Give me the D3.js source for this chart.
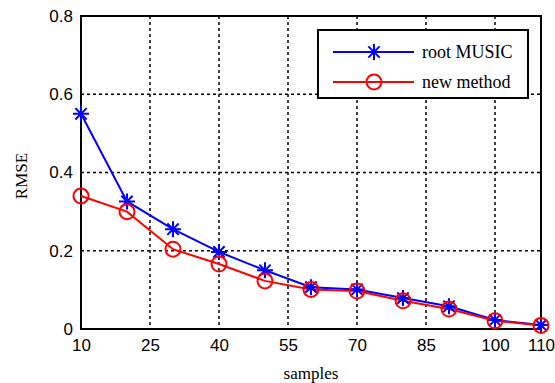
<!DOCTYPE html>
<html>
<head>
<meta charset="utf-8">
<script src="https://cdn.jsdelivr.net/npm/d3@7"></script>
<style>
  body { margin: 0; background: #fff; }
  svg { display: block; }
</style>
</head>
<body>
<div id="chart"></div>
<script>
// data
let samples = [10, 20, 30, 40, 50, 60, 70, 80, 90, 100, 110];
let rootMusic = [0.55, 0.326, 0.255, 0.197, 0.15, 0.107, 0.101, 0.079, 0.058, 0.023, 0.01];
let newMethod = [0.34, 0.30, 0.204, 0.166, 0.123, 0.101, 0.097, 0.072, 0.051, 0.021, 0.009];
let xTicks = [10, 25, 40, 55, 70, 85, 100, 110];
let yTicks = [0, 0.2, 0.4, 0.6, 0.8];

let W = 555, H = 383;
let m = {top: 16, right: 14, bottom: 54, left: 81};
let w = W - m.left - m.right;
let h = H - m.top - m.bottom;

let svg = d3.select("#chart")
    .append("svg")
    .attr("width", W)
    .attr("height", H);

let g = svg.append("g")
    .attr("transform", "translate(" + m.left + "," + m.top + ")");

let x = d3.scaleLinear().domain([10, 110]).range([0, w]);
let y = d3.scaleLinear().domain([0, 0.8]).range([h, 0]);

// dotted grid
g.append("g")
    .selectAll("line")
    .data(xTicks.filter(d => d > 10 && d < 110))
    .enter()
    .append("line")
    .attr("x1", d => x(d)).attr("x2", d => x(d))
    .attr("y1", 0).attr("y2", h)
    .attr("stroke", "#000")
    .attr("stroke-width", 1.5)
    .attr("stroke-dasharray", "3,3");

g.append("g")
    .selectAll("line")
    .data(yTicks.filter(d => d > 0 && d < 0.8))
    .enter()
    .append("line")
    .attr("x1", 0).attr("x2", w)
    .attr("y1", d => y(d)).attr("y2", d => y(d))
    .attr("stroke", "#000")
    .attr("stroke-width", 1.5)
    .attr("stroke-dasharray", "3,3");

// axes
let xAxis = g.append("g")
    .attr("transform", "translate(0," + h + ")")
    .call(d3.axisBottom(x).tickValues(xTicks).tickSize(0).tickPadding(10).tickFormat(d3.format("d")));
let yAxis = g.append("g")
    .call(d3.axisLeft(y).tickValues(yTicks).tickSize(0).tickPadding(8).tickFormat(d => d === 0 ? "0" : d3.format(".1f")(d)));

[xAxis, yAxis].forEach(a => {
    a.select(".domain").remove();
    a.selectAll("text")
        .attr("font-family", "Liberation Sans, Arial, sans-serif")
        .attr("font-size", 17)
        .attr("fill", "#000");
});

// frame
g.append("rect")
    .attr("x", 0).attr("y", 0)
    .attr("width", w).attr("height", h)
    .attr("fill", "none")
    .attr("stroke", "#000")
    .attr("stroke-width", 2);

// axis titles
svg.append("text")
    .attr("x", m.left + x(60))
    .attr("y", 379)
    .attr("text-anchor", "middle")
    .attr("font-family", "Liberation Serif, Times New Roman, serif")
    .attr("font-size", 17)
    .text("samples");

svg.append("text")
    .attr("transform", "translate(27,176) rotate(-90)")
    .attr("text-anchor", "middle")
    .attr("font-family", "Liberation Serif, Times New Roman, serif")
    .attr("font-size", 17)
    .text("RMSE");

// markers
function star(r) {
    let d = r * Math.SQRT1_2;
    return "M" + (-r) + ",0L" + r + ",0M0," + (-r) + "L0," + r +
        "M" + (-d) + "," + (-d) + "L" + d + "," + d +
        "M" + (-d) + "," + d + "L" + d + "," + (-d);
}

let series = [
    {name: "root MUSIC", values: rootMusic, color: "#0000ff", marker: "star"},
    {name: "new method", values: newMethod, color: "#ff0000", marker: "circle"}
];

let line = d3.line()
    .x((d, i) => x(samples[i]))
    .y(d => y(d));

series.forEach(s => {
    g.append("path")
        .datum(s.values)
        .attr("d", line)
        .attr("fill", "none")
        .attr("stroke", s.color)
        .attr("stroke-width", 2);
});

function drawMarker(sel, s) {
    if (s.marker === "star") {
        sel.append("path")
            .attr("d", star(8))
            .attr("stroke", s.color)
            .attr("stroke-width", 2)
            .attr("fill", "none");
    } else {
        sel.append("circle")
            .attr("r", 7.5)
            .attr("stroke", s.color)
            .attr("stroke-width", 2)
            .attr("fill", "none");
    }
}

series.forEach(s => {
    g.append("g")
        .selectAll("g")
        .data(s.values)
        .enter()
        .append("g")
        .attr("transform", (d, i) => "translate(" + x(samples[i]) + "," + y(d) + ")")
        .each(function() { drawMarker(d3.select(this), s); });
});

// legend
let lg = svg.append("g").attr("transform", "translate(318,30)");
lg.append("rect")
    .attr("width", 210).attr("height", 68)
    .attr("fill", "#fff")
    .attr("stroke", "#000")
    .attr("stroke-width", 2);

series.forEach((s, i) => {
    let yy = 22 + i * 30;
    lg.append("line")
        .attr("x1", 15).attr("x2", 96)
        .attr("y1", yy).attr("y2", yy)
        .attr("stroke", s.color)
        .attr("stroke-width", 2);
    let mk = lg.append("g").attr("transform", "translate(56," + yy + ")");
    drawMarker(mk, s);
    lg.append("text")
        .attr("x", 104)
        .attr("y", yy + 6)
        .attr("font-family", "Liberation Serif, Times New Roman, serif")
        .attr("font-size", 18)
        .text(s.name);
});
</script>
</body>
</html>
